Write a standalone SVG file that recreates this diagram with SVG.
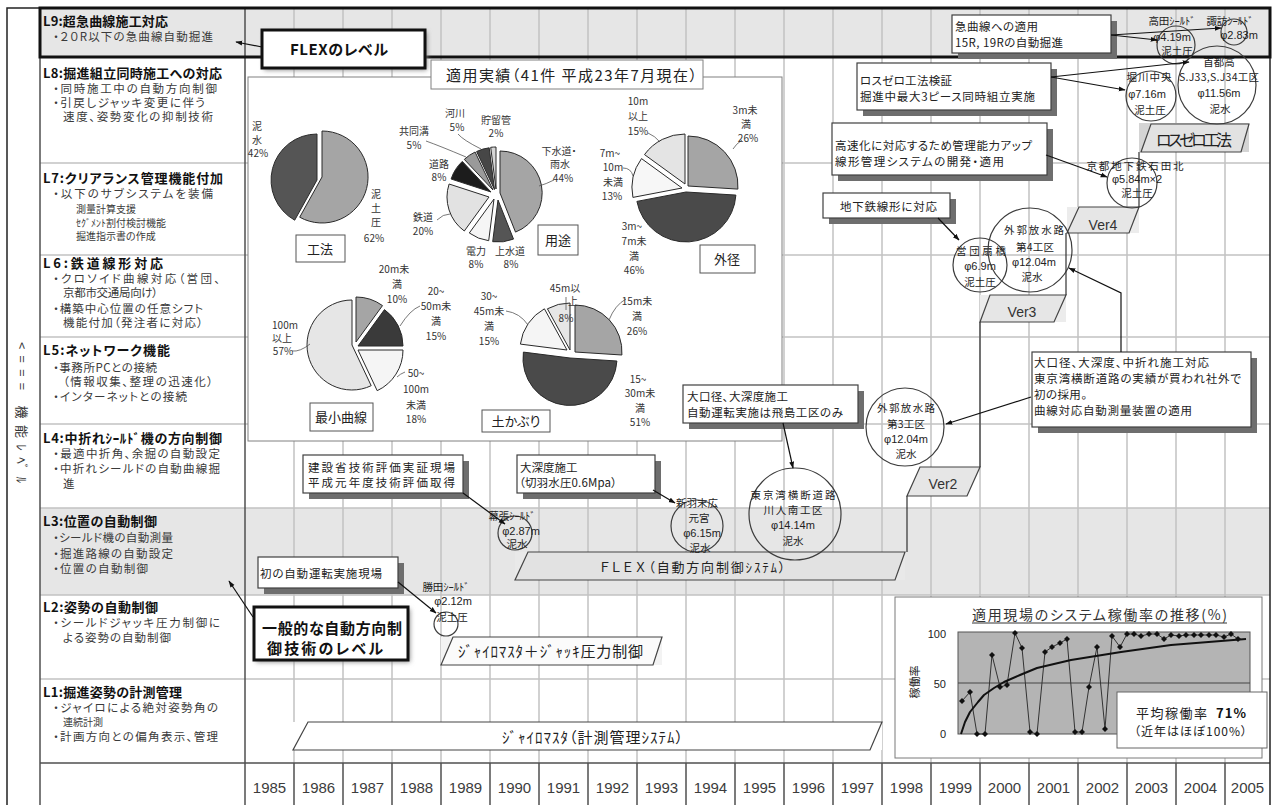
<svg xmlns="http://www.w3.org/2000/svg" width="1274" height="805" viewBox="0 0 1274 805">
<defs>
<style>
text{font-family:"Noto Sans CJK JP","Noto Sans",sans-serif;font-feature-settings:"palt"}
.hd{font-size:13px;font-weight:bold;fill:#111}
.bl{font-size:11.5px;fill:#3a3a3a}
.sm{font-size:10px;fill:#3a3a3a}
.yr{font-family:"Liberation Sans",Arial,sans-serif;font-size:15px;fill:#3c3c3c;text-anchor:middle}
.g{stroke:#c2c2c2;stroke-width:1.5;fill:none}
.dk{stroke:#505050;stroke-width:1.5;fill:none}
.box{fill:#fff;stroke:#404040;stroke-width:1.2}
.shd{fill:#6e6e6e}
.ct{font-size:11.5px;fill:#222}
.nd{fill:none;stroke:#3c3c3c;stroke-width:1.2}
.nt{font-size:10.5px;fill:#222;text-anchor:middle}
.nm{font-family:"Liberation Sans",Arial,sans-serif;font-size:11px;fill:#222;text-anchor:middle}
.pl{font-size:10px;fill:#333;text-anchor:middle}
.lb{fill:#fff;stroke:#555;stroke-width:1}
.lt{font-size:13px;fill:#222;text-anchor:middle}
.sl{stroke:#2a2a2a;stroke-width:1}
.ld{fill:none;stroke:#555;stroke-width:0.8}
.cn{fill:none;stroke:#111;stroke-width:1.2;marker-end:url(#ah)}
.st{fill:none;stroke:#333;stroke-width:1.2}
.pg{stroke:#444;stroke-width:1.2}
.vt{font-family:"Liberation Sans",Arial,sans-serif;font-size:14px;fill:#333;text-anchor:middle}
.ax{font-family:"Liberation Sans",Arial,sans-serif;font-size:11px;fill:#222;text-anchor:end}
.big{font-size:15px;font-weight:bold;fill:#111}
</style>
<marker id="ah" viewBox="0 0 10 10" refX="9" refY="5" markerWidth="7" markerHeight="7" markerUnits="userSpaceOnUse" orient="auto"><path d="M0,1.5 L10,5 L0,8.5 Z" fill="#111"/></marker>
<filter id="glow" x="-10%" y="-30%" width="120%" height="160%"><feGaussianBlur stdDeviation="2.5"/></filter>
<path id="dm" d="M0,-3 L3,0 L0,3 L-3,0 Z" fill="#111"/>
</defs>

<rect width="1274" height="805" fill="#fff"/>

<!-- table background and grid -->
<g id="table">
<rect x="40" y="8" width="1230" height="49" fill="#e6e6e6"/>
<rect x="40" y="508" width="1230" height="87" fill="#e6e6e6"/>
<path class="g" d="M294,8V763M343,8V763M392,8V763M441,8V763M490,8V763M539,8V763M588,8V763M637,8V763M686,8V763M735,8V763M784,8V763M833,8V763M882,8V763M931,8V763M980,8V763M1029,8V763M1078,8V763M1127,8V763M1176,8V763M1225,8V763"/>
<path class="g" d="M40,163H1270M40,255H1270M40,337H1270M40,424H1270M40,508H1270M40,595H1270M40,679H1270"/>
<path class="dk" d="M294,763V805M343,763V805M392,763V805M441,763V805M490,763V805M539,763V805M588,763V805M637,763V805M686,763V805M735,763V805M784,763V805M833,763V805M882,763V805M931,763V805M980,763V805M1029,763V805M1078,763V805M1127,763V805M1176,763V805M1225,763V805"/>
<path class="dk" d="M245,8V805M40,8V805M40,763H1270"/>
<rect x="7" y="8" width="1263" height="800" fill="none" stroke="#222" stroke-width="1.5"/>
<rect x="40" y="8" width="1230" height="49" fill="none" stroke="#111" stroke-width="3"/>
</g>

<!-- vertical axis caption -->
<text transform="translate(17,342) rotate(90)" font-size="13" fill="#333" textLength="141" lengthAdjust="spacing">&lt;=== 機能ﾚﾍﾞﾙ</text>

<!-- level descriptions -->
<g id="levels">
<text class="hd" x="43" y="26" textLength="125">L9:超急曲線施工対応</text>
<text class="bl" x="53" y="41" textLength="160">・２０R以下の急曲線自動掘進</text>
<text class="hd" x="43" y="78" textLength="179">L8:掘進組立同時施工への対応</text>
<text class="bl" x="53" y="93" textLength="164">・同時施工中の自動方向制御</text>
<text class="bl" x="53" y="107" textLength="152">・引戻しジャッキ変更に伴う</text>
<text class="bl" x="63" y="121" textLength="150">速度、姿勢変化の抑制技術</text>
<text class="hd" x="43" y="183" textLength="180">L7:クリアランス管理機能付加</text>
<text class="bl" x="53" y="198" textLength="160">・以下のサブシステムを装備</text>
<text class="sm" x="76" y="213">測量計算支援</text>
<text class="sm" x="76" y="227">ｾｸﾞﾒﾝﾄ割付検討機能</text>
<text class="sm" x="76" y="240">掘進指示書の作成</text>
<text class="hd" x="43" y="268" textLength="120">L6:鉄道線形対応</text>
<text class="bl" x="53" y="283" textLength="167">・クロソイド曲線対応（営団、</text>
<text class="bl" x="63" y="297" textLength="95">京都市交通局向け）</text>
<text class="bl" x="53" y="313" textLength="150">・構築中心位置の任意シフト</text>
<text class="bl" x="63" y="327" textLength="140">機能付加（発注者に対応）</text>
<text class="hd" x="43" y="355" textLength="127">L5:ネットワーク機能</text>
<text class="bl" x="53" y="372" textLength="104">・事務所PCとの接続</text>
<text class="bl" x="63" y="386" textLength="150">（情報収集、整理の迅速化）</text>
<text class="bl" x="53" y="401" textLength="134">・インターネットとの接続</text>
<text class="hd" x="43" y="443" textLength="179">L4:中折れｼｰﾙﾄﾞ機の方向制御</text>
<text class="bl" x="53" y="458" textLength="167">・最適中折角、余掘の自動設定</text>
<text class="bl" x="53" y="473" textLength="167">・中折れシールドの自動曲線掘</text>
<text class="bl" x="63" y="488">進</text>
<text class="hd" x="43" y="526" textLength="114">L3:位置の自動制御</text>
<text class="bl" x="53" y="542" textLength="120">・シールド機の自動測量</text>
<text class="bl" x="53" y="558" textLength="120">・掘進路線の自動設定</text>
<text class="bl" x="53" y="573" textLength="95">・位置の自動制御</text>
<text class="hd" x="43" y="612" textLength="115">L2:姿勢の自動制御</text>
<text class="bl" x="53" y="627" textLength="167">・シールドジャッキ圧力制御に</text>
<text class="bl" x="63" y="642" textLength="108">よる姿勢の自動制御</text>
<text class="hd" x="43" y="697" textLength="139">L1:掘進姿勢の計測管理</text>
<text class="bl" x="53" y="712" textLength="165">・ジャイロによる絶対姿勢角の</text>
<text class="sm" x="63" y="726" font-size="10.5">連続計測</text>
<text class="bl" x="53" y="741" textLength="165">・計画方向との偏角表示、管理</text>
</g>

<!-- years -->
<g id="years">
<text class="yr" x="269.5" y="793">1985</text><text class="yr" x="318.5" y="793">1986</text><text class="yr" x="367.5" y="793">1987</text><text class="yr" x="416.5" y="793">1988</text><text class="yr" x="465.5" y="793">1989</text><text class="yr" x="514.5" y="793">1990</text><text class="yr" x="563.5" y="793">1991</text><text class="yr" x="612.5" y="793">1992</text><text class="yr" x="661.5" y="793">1993</text><text class="yr" x="710.5" y="793">1994</text><text class="yr" x="759.5" y="793">1995</text><text class="yr" x="808.5" y="793">1996</text><text class="yr" x="857.5" y="793">1997</text><text class="yr" x="906.5" y="793">1998</text><text class="yr" x="955.5" y="793">1999</text><text class="yr" x="1004.5" y="793">2000</text><text class="yr" x="1053.5" y="793">2001</text><text class="yr" x="1102.5" y="793">2002</text><text class="yr" x="1151.5" y="793">2003</text><text class="yr" x="1200.5" y="793">2004</text><text class="yr" x="1247.5" y="793">2005</text>
</g>

<!-- results panel with pie charts -->
<g id="pie-panel">
<rect x="248" y="77" width="534" height="364" fill="#fff" stroke="#808080" stroke-width="1"/>
<rect x="431" y="60" width="272" height="29" fill="#fff" stroke="#808080" stroke-width="1"/>
<text x="446" y="81" font-size="15" fill="#222" textLength="251">適用実績（41件 平成23年7月現在）</text>
</g>

<g id="pie-method">
<path class="sl" fill="#555" d="M317,180 L294.7,220.2 A46,46 0 0,1 317,134 Z"/>
<path class="sl" fill="#a5a5a5" d="M322,177 L322,131 A46,46 0 1,1 299.7,217.2 Z"/>
<text class="pl" font-size="11" x="257" y="130">泥</text><text class="pl" font-size="11" x="257" y="144">水</text><text class="pl" x="258" y="157">42%</text>
<text class="pl" font-size="11" x="376" y="198">泥</text><text class="pl" font-size="11" x="376" y="212">土</text><text class="pl" font-size="11" x="376" y="226">圧</text><text class="pl" x="374" y="242">62%</text>
<rect class="lb" x="296" y="235" width="49" height="27"/><text class="lt" x="320" y="254">工法</text>
</g>

<g id="pie-use">
<path class="sl" fill="#a5a5a5" d="M500,193 L500,151 A42,42 0 0,1 515.5,232.1 Z"/>
<path class="sl" fill="#555" d="M498,200 L513.5,239.1 A42,42 0 0,1 492.7,241.7 Z"/>
<path class="sl" fill="#f5f5f5" d="M494,199 L488.7,240.7 A42,42 0 0,1 469.3,233 Z"/>
<path class="sl" fill="#e2e2e2" d="M489,197 L464.3,231 A42,42 0 0,1 449.1,184 Z"/>
<path class="sl" fill="#1c1c1c" d="M491,192 L451.1,179 A42,42 0 0,1 462.3,161.4 Z"/>
<path class="sl" fill="#9a9a9a" d="M493,190 L464.3,159.4 A42,42 0 0,1 475.1,152 Z"/>
<path class="sl" fill="#474747" d="M494.5,189.5 L476.6,151.5 A42,42 0 0,1 489.2,147.8 Z"/>
<path class="sl" fill="#d6d6d6" d="M496,189 L490.7,147.3 A42,42 0 0,1 496,147 Z"/>
<path class="ld" d="M458,134 Q463,140 481,149 M426,141 Q440,146 466,157 M437,220 Q443,214 450,214 M554,180 Q546,184 539,186"/>
<text class="pl" x="455" y="117">河川</text><text class="pl" x="457" y="131">5%</text>
<text class="pl" x="496" y="124">貯留管</text><text class="pl" x="496" y="137">2%</text>
<text class="pl" x="414" y="135">共同溝</text><text class="pl" x="414" y="149">5%</text>
<text class="pl" x="439" y="168">道路</text><text class="pl" x="439" y="181">8%</text>
<text class="pl" x="423" y="221">鉄道</text><text class="pl" x="423" y="235">20%</text>
<text class="pl" x="476" y="255">電力</text><text class="pl" x="476" y="268">8%</text>
<text class="pl" x="510" y="255">上水道</text><text class="pl" x="511" y="268">8%</text>
<text class="pl" x="559" y="155">下水道・</text><text class="pl" x="560" y="168">雨水</text><text class="pl" x="563" y="182">44%</text>
<rect class="lb" x="538" y="225" width="40" height="30"/><text class="lt" x="558" y="245">用途</text>
</g>

<g id="pie-diameter">
<path class="sl" fill="#a5a5a5" d="M688,186 L688,136 A50,50 0 0,1 737.9,189.1 Z"/>
<path class="sl" fill="#4a4a4a" d="M686,192 L735.9,195.1 A50,50 0 0,1 636.9,201.4 Z"/>
<path class="sl" fill="#f7f7f7" d="M682,188 L632.9,197.4 A50,50 0 0,1 641.5,158.6 Z"/>
<path class="sl" fill="#e4e4e4" d="M685,184 L644.5,154.6 A50,50 0 0,1 685,134 Z"/>
<path class="ld" d="M742,140 Q736,144 733,149 M648,133 Q655,136 660,142 M623,168 Q631,168 633,176"/>
<text class="pl" x="745" y="114">3m未</text><text class="pl" x="746" y="128">満</text><text class="pl" x="748" y="142">26%</text>
<text class="pl" x="638" y="105">10m</text><text class="pl" x="638" y="120">以上</text><text class="pl" x="638" y="135">15%</text>
<text class="pl" x="610" y="157">7m~</text><text class="pl" x="613" y="171">10m</text><text class="pl" x="613" y="186">未満</text><text class="pl" x="612" y="200">13%</text>
<text class="pl" x="632" y="230">3m~</text><text class="pl" x="634" y="245">7m未</text><text class="pl" x="634" y="260">満</text><text class="pl" x="634" y="274">46%</text>
<rect class="lb" x="700" y="245" width="55" height="28"/><text class="lt" x="727" y="264">外径</text>
</g>

<g id="pie-curve">
<path class="sl" fill="#a5a5a5" d="M356,342 L356,297 A45,45 0 0,1 382.5,305.6 Z"/>
<path class="sl" fill="#3a3a3a" d="M358,346 L384.5,309.6 A45,45 0 0,1 403,346 Z"/>
<path class="sl" fill="#f5f5f5" d="M358,350 L403,350 A45,45 0 0,1 377.2,390.7 Z"/>
<path class="sl" fill="#e6e6e6" d="M352,345 L371.2,385.7 A45,45 0 1,1 352,300 Z"/>
<path class="ld" d="M292,351 Q300,352 310,344 M420,306 Q410,310 400,326 M405,372 Q400,374 397,377"/>
<text class="pl" x="394" y="273">20m未</text><text class="pl" x="397" y="288">満</text><text class="pl" x="397" y="303">10%</text>
<text class="pl" x="436" y="295">20~</text><text class="pl" x="436" y="310">50m未</text><text class="pl" x="436" y="325">満</text><text class="pl" x="436" y="340">15%</text>
<text class="pl" x="416" y="377">50~</text><text class="pl" x="416" y="393">100m</text><text class="pl" x="416" y="409">未満</text><text class="pl" x="416" y="423">18%</text>
<text class="pl" x="285" y="329">100m</text><text class="pl" x="282" y="342">以上</text><text class="pl" x="283" y="355">57%</text>
<rect class="lb" x="310" y="403" width="63" height="28"/><text class="lt" x="341" y="422">最小曲線</text>
</g>

<g id="pie-cover">
<path class="sl" fill="#a5a5a5" d="M575,352 L575,305 A47,47 0 0,1 621.9,355 Z"/>
<path class="sl" fill="#4a4a4a" d="M570,358 L616.9,361 A47,47 0 1,1 523.4,352.1 Z"/>
<path class="sl" fill="#f5f5f5" d="M567,350 L520.4,344.1 A47,47 0 0,1 544.4,308.8 Z"/>
<path class="sl" fill="#e6e6e6" d="M570,350 L547.4,308.8 A47,47 0 0,1 570,303 Z"/>
<path class="ld" d="M506,311 Q520,313 528,325 M626,299 Q615,305 609,320 M566,297 L566,310"/>
<text class="pl" x="565" y="292">45m以</text><text class="pl" x="573" y="305">上</text><text class="pl" x="566" y="322">8%</text>
<text class="pl" x="489" y="300">30~</text><text class="pl" x="489" y="315">45m未</text><text class="pl" x="489" y="330">満</text><text class="pl" x="489" y="345">15%</text>
<text class="pl" x="637" y="305">15m未</text><text class="pl" x="637" y="320">満</text><text class="pl" x="637" y="335">26%</text>
<text class="pl" x="638" y="383">15~</text><text class="pl" x="640" y="397">30m未</text><text class="pl" x="640" y="412">満</text><text class="pl" x="640" y="426">51%</text>
<rect class="lb" x="482" y="410" width="68" height="22"/><text class="lt" x="516" y="426">土かぶり</text>
</g>

<!-- system bands -->
<g id="band-gyro">
<rect x="293" y="722" width="589" height="28" fill="#fff"/>
<polygon class="pg" fill="#fff" points="308,722 882,722 870,750 293,750"/>
<text x="502" y="743" font-size="15" fill="#222" textLength="181">ｼﾞｬｲﾛﾏｽﾀ（計測管理ｼｽﾃﾑ）</text>
</g>
<g id="band-jack">
<rect x="441" y="637" width="221" height="28" fill="#f3f3f3"/>
<polygon class="pg" fill="#fbfbfb" points="453,637 662,637 653,665 441,665"/>
<text x="458" y="657" font-size="15" fill="#222" textLength="185">ｼﾞｬｲﾛﾏｽﾀ＋ｼﾞｬｯｷ圧力制御</text>
</g>
<g id="band-flex">
<rect x="515" y="552" width="390" height="28" fill="#e9e9e9"/>
<polygon class="pg" fill="#e2e2e2" points="528,552 905,552 895,580 515,580"/>
<text x="600" y="572" font-size="13" fill="#222"><tspan letter-spacing="2.5">ＦＬＥＸ</tspan><tspan textLength="137">（自動方向制御ｼｽﾃﾑ）</tspan></text>
</g>
<g id="ver2">
<polygon class="pg" fill="#e6e6e6" points="920,467 980,467 967,496 907,496"/>
<text class="vt" x="943" y="489">Ver2</text>
</g>
<g id="ver3">
<rect x="980" y="295" width="86" height="27" fill="#ececec"/>
<polygon class="pg" fill="#e6e6e6" points="990,295 1066,295 1054,322 980,322"/>
<text class="vt" x="1022" y="317">Ver3</text>
</g>
<g id="ver4">
<rect x="1067" y="207" width="72" height="26" fill="#ececec"/>
<polygon class="pg" fill="#e6e6e6" points="1079,207 1139,207 1129,233 1067,233"/>
<text class="vt" x="1103" y="230">Ver4</text>
</g>
<g id="losszero">
<rect x="1139" y="123" width="110" height="29" fill="#d4d4d4"/>
<polygon class="pg" fill="#e2e2e2" points="1151,124 1249,124 1241,152 1141,152"/>
<text x="1156" y="146" font-size="16" fill="#222" textLength="76">ロスゼロ工法</text>
</g>

<!-- project sites -->
<g id="site-katsuta">
<circle class="nd" cx="446" cy="624" r="12"/>
<text class="nt" x="446" y="591" font-size="9.5">勝田ｼｰﾙﾄﾞ</text>
<text class="nm" x="453" y="605">φ2.12m</text>
<text class="nt" x="452" y="621">泥土圧</text>
</g>
<g id="site-makuhari">
<circle class="nd" cx="515" cy="533" r="17"/>
<text class="nt" x="512" y="520" font-size="9.5">幕張ｼｰﾙﾄﾞ</text>
<text class="nm" x="521" y="535">φ2.87m</text>
<text class="nt" x="517" y="548">泥水</text>
</g>
<g id="site-nippa">
<circle class="nd" cx="697" cy="526" r="26"/>
<text class="nt" x="697" y="507">新羽末広</text>
<text class="nt" x="699" y="522">元宮</text>
<text class="nm" x="702" y="537">φ6.15m</text>
<text class="nt" x="700" y="552">泥水</text>
</g>
<g id="site-aqualine">
<circle class="nd" cx="795" cy="514" r="46"/>
<text class="nt" x="793" y="499" font-size="11.5" textLength="85">東京湾横断道路</text>
<text class="nt" x="793" y="514" font-size="11.5" textLength="59">川人南工区</text>
<text class="nm" x="793" y="529" font-size="12">φ14.14m</text>
<text class="nt" x="793" y="545" font-size="11.5">泥水</text>
</g>
<g id="site-gaikaku3">
<circle class="nd" cx="905" cy="427" r="39"/>
<text class="nt" x="906" y="412" textLength="58">外郭放水路</text>
<text class="nt" x="906" y="428" textLength="38">第3工区</text>
<text class="nm" x="906" y="443" font-size="12">φ12.04m</text>
<text class="nt" x="906" y="458">泥水</text>
</g>
<g id="site-ogibashi">
<circle class="nd" cx="980" cy="265" r="27"/>
<text class="nt" x="981" y="255" textLength="50">営団扇橋</text>
<text class="nm" x="980" y="270">φ6.9m</text>
<text class="nt" x="980" y="286">泥土圧</text>
</g>
<g id="site-gaikaku4">
<circle class="nd" cx="1030" cy="250" r="42"/>
<text class="nt" x="1034" y="234" textLength="60">外郭放水路</text>
<text class="nt" x="1035" y="251" textLength="38">第4工区</text>
<text class="nm" x="1034" y="266" font-size="12.5">φ12.04m</text>
<text class="nt" x="1032" y="281">泥水</text>
</g>
<g id="site-kyoto">
<circle class="nd" cx="1132" cy="183" r="25"/>
<text class="nt" x="1135" y="170" textLength="97">京都地下鉄石田北</text>
<text class="nm" x="1137" y="183">φ5.84m×2</text>
<text class="nt" x="1137" y="197">泥土圧</text>
</g>
<g id="site-horikawa">
<circle class="nd" cx="1151" cy="96" r="25"/>
<text class="nt" x="1149" y="81" textLength="45">堀川中央</text>
<text class="nm" x="1147" y="98">φ7.16m</text>
<text class="nt" x="1150" y="114">泥土圧</text>
</g>
<g id="site-shutoko">
<circle class="nd" cx="1217" cy="85" r="39"/>
<text class="nt" x="1219" y="66">首都高</text>
<text class="nt" x="1219" y="81" textLength="80">S.J33,S.J34工区</text>
<text class="nm" x="1219" y="97" font-size="12">φ11.56m</text>
<text class="nt" x="1220" y="113">泥水</text>
</g>
<g id="site-takata">
<circle class="nd" cx="1176" cy="45" r="19"/>
<text class="nt" x="1172" y="25" font-size="10">高田ｼｰﾙﾄﾞ</text>
<text class="nm" x="1172" y="41">φ4.19m</text>
<text class="nt" x="1177" y="55" font-size="10">泥土圧</text>
</g>
<g id="site-suwa">
<circle class="nd" cx="1234" cy="32" r="13"/>
<text class="nt" x="1230" y="25" font-size="10">諏訪ｼｰﾙﾄﾞ</text>
<text class="nm" x="1239" y="39">φ2.83m</text>
</g>

<!-- callout notes -->
<g id="note-curve">
<rect class="shd" x="958" y="21" width="159" height="38"/>
<rect class="box" x="952" y="15" width="159" height="38"/>
<text class="ct" x="955" y="31" textLength="83">急曲線への適用</text>
<text class="ct" x="955" y="47" textLength="108">15R, 19Rの自動掘進</text>
</g>
<g id="note-losszero">
<rect class="shd" x="863" y="69" width="194" height="47"/>
<rect class="box" x="857" y="63" width="194" height="47"/>
<text class="ct" x="860" y="85" textLength="92">ロスゼロ工法検証</text>
<text class="ct" x="860" y="101" textLength="175">掘進中最大3ピース同時組立実施</text>
</g>
<g id="note-speed">
<rect class="shd" x="838" y="129" width="215" height="52"/>
<rect class="box" x="832" y="123" width="215" height="52"/>
<text class="ct" x="835" y="150" textLength="197">高速化に対応するため管理能力アップ</text>
<text class="ct" x="835" y="166" textLength="169">線形管理システムの開発・適用</text>
</g>
<g id="note-subway">
<rect class="shd" x="829" y="199" width="127" height="25"/>
<rect class="box" x="823" y="193" width="127" height="25"/>
<text class="ct" x="840" y="211" textLength="97">地下鉄線形に対応</text>
</g>
<g id="note-bigbore2">
<rect class="shd" x="1038" y="358" width="219" height="75"/>
<rect class="box" x="1032" y="352" width="219" height="75"/>
<text class="ct" x="1034" y="367" textLength="175">大口径、大深度、中折れ施工対応</text>
<text class="ct" x="1034" y="383" textLength="207">東京湾横断道路の実績が買われ社外で</text>
<text class="ct" x="1034" y="399" textLength="53">初の採用。</text>
<text class="ct" x="1034" y="415" textLength="158">曲線対応自動測量装置の適用</text>
</g>
<g id="note-bigbore">
<rect class="shd" x="689" y="391" width="175" height="38"/>
<rect class="box" x="683" y="385" width="175" height="38"/>
<text class="ct" x="687" y="401" textLength="101">大口径、大深度施工</text>
<text class="ct" x="687" y="417" textLength="156">自動運転実施は飛島工区のみ</text>
</g>
<g id="note-ministry">
<rect class="shd" x="309" y="461" width="160" height="38"/>
<rect class="box" x="303" y="455" width="160" height="38"/>
<text class="ct" x="308" y="472" textLength="147">建設省技術評価実証現場</text>
<text class="ct" x="308" y="487" textLength="147">平成元年度技術評価取得</text>
</g>
<g id="note-deep">
<rect class="shd" x="523" y="461" width="138" height="38"/>
<rect class="box" x="517" y="455" width="138" height="38"/>
<text class="ct" x="520" y="472" font-size="10">大深度施工</text>
<text class="ct" x="519" y="487" font-size="10.5" textLength="98">（切羽水圧0.6Mpa）</text>
</g>
<g id="note-first">
<rect class="shd" x="264" y="563" width="140" height="31"/>
<rect class="box" x="258" y="557" width="140" height="31"/>
<text class="ct" x="260" y="578" textLength="122">初の自動運転実施現場</text>
</g>
<g id="label-flex">
<rect x="264" y="32" width="163" height="38" fill="#888" filter="url(#glow)"/>
<rect x="262" y="30" width="163" height="38" fill="#fff" stroke="#111" stroke-width="3"/>
<text class="big" x="290" y="55" textLength="98">FLEXのレベル</text>
</g>
<g id="label-general">
<rect x="256" y="609" width="154" height="53" fill="#888" filter="url(#glow)"/>
<rect x="254" y="607" width="154" height="53" fill="#fff" stroke="#111" stroke-width="3"/>
<text class="big" x="262" y="634" textLength="140">一般的な自動方向制</text>
<text class="big" x="267" y="654" textLength="116">御技術のレベル</text>
</g>

<!-- availability chart -->
<g id="chart">
<rect x="895" y="597" width="367" height="161" fill="#fff" stroke="#7a7a7a" stroke-width="1"/>
<text x="972" y="620" font-size="14" fill="#333" textLength="255">適用現場のシステム稼働率の推移(%)</text>
<line x1="972" y1="623" x2="1227" y2="623" stroke="#333" stroke-width="1"/>
<rect x="958" y="632" width="292" height="102" fill="#b4b4b4" stroke="#555" stroke-width="1"/>
<line x1="958" y1="683" x2="1250" y2="683" stroke="#444" stroke-width="1.2"/>
<text class="ax" x="946" y="638">100</text><text class="ax" x="946" y="688">50</text><text class="ax" x="946" y="738">0</text>
<text transform="translate(919,682) rotate(-90)" font-size="11" fill="#222" text-anchor="middle">稼働率</text>
<polyline fill="none" stroke="#333" stroke-width="1" points="962,701 970,692 977,734 985,734 992,655 1000,687 1007,685 1015,633 1022,648 1030,732 1037,734 1045,652 1052,647 1060,643 1067,639 1075,732 1082,732 1089,687 1097,647 1105,729 1112,636 1120,647 1127,634 1134,634 1141,636 1149,634 1157,634 1164,639 1171,635 1179,636 1186,635 1194,635 1201,635 1209,635 1216,635 1224,637 1231,634 1238,639"/>
<g>
<use href="#dm" x="962" y="701"/><use href="#dm" x="970" y="692"/><use href="#dm" x="977" y="734"/><use href="#dm" x="985" y="734"/><use href="#dm" x="992" y="655"/><use href="#dm" x="1000" y="687"/><use href="#dm" x="1007" y="685"/><use href="#dm" x="1015" y="633"/><use href="#dm" x="1022" y="648"/><use href="#dm" x="1030" y="732"/><use href="#dm" x="1037" y="734"/><use href="#dm" x="1045" y="652"/><use href="#dm" x="1052" y="647"/><use href="#dm" x="1060" y="643"/><use href="#dm" x="1067" y="639"/><use href="#dm" x="1075" y="732"/><use href="#dm" x="1082" y="732"/><use href="#dm" x="1089" y="687"/><use href="#dm" x="1097" y="647"/><use href="#dm" x="1105" y="729"/><use href="#dm" x="1112" y="636"/><use href="#dm" x="1120" y="647"/><use href="#dm" x="1127" y="634"/><use href="#dm" x="1134" y="634"/><use href="#dm" x="1141" y="636"/><use href="#dm" x="1149" y="634"/><use href="#dm" x="1157" y="634"/><use href="#dm" x="1164" y="639"/><use href="#dm" x="1171" y="635"/><use href="#dm" x="1179" y="636"/><use href="#dm" x="1186" y="635"/><use href="#dm" x="1194" y="635"/><use href="#dm" x="1201" y="635"/><use href="#dm" x="1209" y="635"/><use href="#dm" x="1216" y="635"/><use href="#dm" x="1224" y="637"/><use href="#dm" x="1231" y="634"/><use href="#dm" x="1238" y="639"/>
</g>
<polyline fill="none" stroke="#111" stroke-width="2" stroke-linejoin="round" points="961,734 965,722 970,712 978,702 984,695 994,688 1004,682 1020,675 1037,668 1071,660 1121,652 1171,645 1246,639"/>
<rect x="1117" y="692" width="150" height="56" fill="#fff" stroke="#666" stroke-width="1"/>
<text x="1136" y="718" font-size="13" fill="#222" textLength="71">平均稼働率</text>
<text x="1216" y="718" font-size="13" font-weight="bold" fill="#111" textLength="30">71%</text>
<text x="1134" y="736" font-size="12" fill="#222" textLength="113">（近年はほぼ100%）</text>
</g>

<!-- connectors -->
<g id="connectors">
<path class="st" d="M907,552V496M980,467V322M1066,295V233M1139,207V152"/>
<path class="cn" d="M262,47 L236,42"/>
<path class="cn" d="M253,617 L229,581"/>
<path class="cn" d="M398,582 L436,613"/>
<path class="cn" d="M463,493 L505,524"/>
<path class="cn" d="M653,490 L675,503"/>
<path class="cn" d="M783,423 L793,468"/>
<path class="cn" d="M1031,397 L946,424"/>
<path class="cn" d="M1121,352 L1121,293 L1069,268"/>
<path class="cn" d="M938,218 L959,240"/>
<path class="cn" d="M1046,155 L1107,177"/>
<path class="cn" d="M1051,77 L1125,90"/>
<path class="cn" d="M1051,77 L1189,62"/>
<path class="cn" d="M1111,35 L1157,40"/>
<path class="cn" d="M1111,35 L1221,28"/>
</g>
</svg>
